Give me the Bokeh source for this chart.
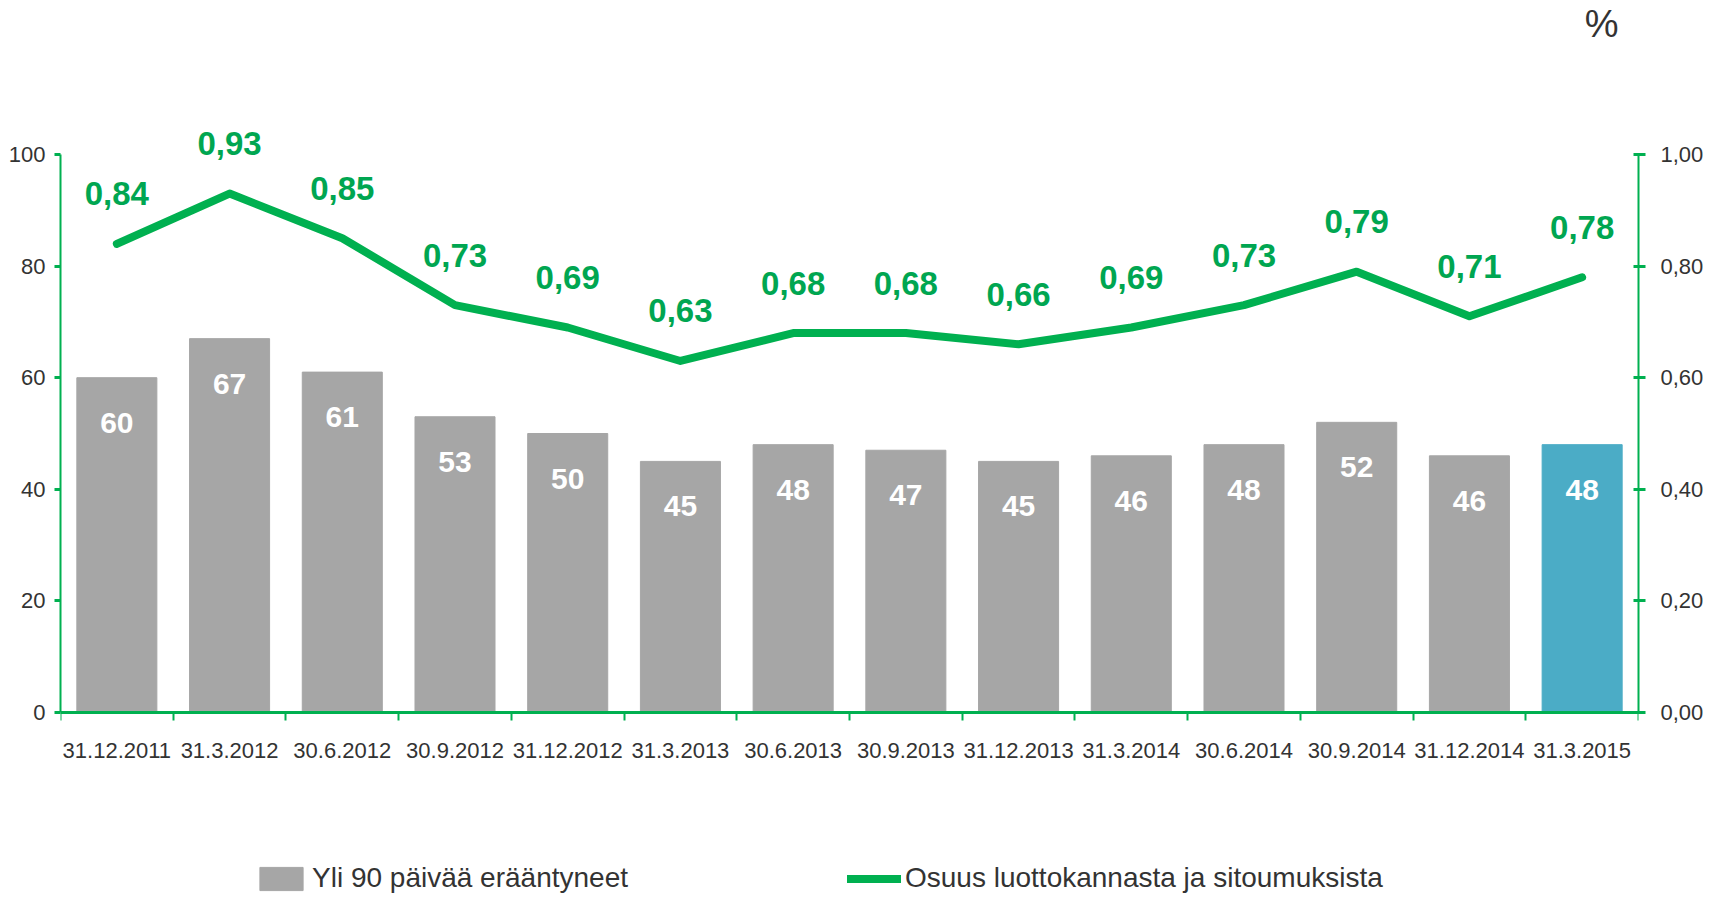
from bokeh.plotting import figure
from bokeh.models import (Range1d, LinearAxis, FixedTicker, CustomJSTickFormatter,
                          ColumnDataSource, Legend, LegendItem, Label)
from bokeh.core.properties import value
from bokeh.embed import file_html
from bokeh.resources import INLINE

# ---- data ----
categories = ["31.12.2011", "31.3.2012", "30.6.2012", "30.9.2012", "31.12.2012",
              "31.3.2013", "30.6.2013", "30.9.2013", "31.12.2013", "31.3.2014",
              "30.6.2014", "30.9.2014", "31.12.2014", "31.3.2015"]
overdue = [60, 67, 61, 53, 50, 45, 48, 47, 45, 46, 48, 52, 46, 48]
share_pct = [0.84, 0.93, 0.85, 0.73, 0.69, 0.63, 0.68, 0.68, 0.66, 0.69, 0.73, 0.79, 0.71, 0.78]
left_ticks = [0, 20, 40, 60, 80, 100]
right_ticks = [0.0, 0.2, 0.4, 0.6, 0.8, 1.0]
bar_series_name = "Yli 90 päivää erääntyneet"
line_series_name = "Osuus luottokannasta ja sitoumuksista"
unit_label = "%"

# ---- style / layout ----
FONT = "Liberation Sans"
GREEN = "#00B050"
GREEN_TXT = "#00A651"
GRAY = "#A6A6A6"
BLUE = "#4BACC6"
TXT = "#333333"

FRAME_W, FRAME_H = 1578, 900
PX_PER_UNIT = 5.58          # pixels per 1 unit on the left axis
ZERO_PX = 712               # screen y of value 0 from frame top
y_end = ZERO_PX / PX_PER_UNIT
y_start = (ZERO_PX - FRAME_H) / PX_PER_UNIT

n = len(categories)
centers = [i + 0.5 for i in range(n)]
bar_colors = [GRAY] * (n - 1) + [BLUE]
bar_text = [str(v) for v in overdue]
pct_text = [f"{v:.2f}".replace(".", ",") for v in share_pct]

src = ColumnDataSource(dict(x=centers, top=overdue, color=bar_colors, btxt=bar_text,
                            pct=share_pct, ptxt=pct_text))

p = figure(frame_width=FRAME_W, frame_height=FRAME_H, output_backend="svg", toolbar_location=None,
           x_range=Range1d(0, n), y_range=Range1d(y_start, y_end),
           min_border_left=60, min_border_right=67, min_border_top=0, min_border_bottom=0,
           x_axis_location=None, y_axis_location=None)
p.outline_line_color = None
p.xgrid.visible = False
p.ygrid.visible = False
p.background_fill_color = "white"
p.border_fill_color = "white"
p.extra_y_ranges = {"pct": Range1d(y_start / 100.0, y_end / 100.0)}

# bars
bars = p.vbar(x="x", top="top", bottom=0, width=0.71, color="color", source=src)
p.text(x="x", y="top", text="btxt", source=src, y_offset=45,
       text_align="center", text_baseline="middle", text_color="white",
       text_font=value(FONT), text_font_style="bold", text_font_size="30px")

# line
line = p.line(x="x", y="pct", source=src, y_range_name="pct", line_color=GREEN,
              line_width=8, line_cap="round", line_join="round")
p.text(x="x", y="pct", text="ptxt", source=src, y_range_name="pct", y_offset=-50,
       text_align="center", text_baseline="middle", text_color=GREEN_TXT,
       text_font=value(FONT), text_font_style="bold", text_font_size="33px")

# axes
xaxis = LinearAxis(ticker=FixedTicker(ticks=centers, minor_ticks=list(range(n + 1))),
                   formatter=CustomJSTickFormatter(args=dict(labels=categories),
                                                   code="return labels[Math.floor(tick)];"),
                   fixed_location=0)
xaxis.axis_line_color = GREEN
xaxis.axis_line_width = 3
xaxis.major_tick_line_color = None
xaxis.major_tick_out = 0
xaxis.major_tick_in = 0
xaxis.minor_tick_line_color = GREEN
xaxis.minor_tick_line_width = 2
xaxis.minor_tick_out = 8
xaxis.minor_tick_in = 0
xaxis.major_label_standoff = 22
xaxis.major_label_text_font = FONT
xaxis.major_label_text_font_size = "22px"
xaxis.major_label_text_color = TXT
p.add_layout(xaxis, "below")

yaxis = LinearAxis(ticker=FixedTicker(ticks=left_ticks), bounds=(0, 100))
yaxis.axis_line_color = GREEN
yaxis.axis_line_width = 2
yaxis.major_tick_line_color = GREEN
yaxis.major_tick_line_width = 3
yaxis.major_tick_out = 6
yaxis.major_tick_in = 0
yaxis.minor_tick_line_color = None
yaxis.major_label_standoff = 9
yaxis.major_label_text_font = FONT
yaxis.major_label_text_font_size = "22px"
yaxis.major_label_text_color = TXT
p.add_layout(yaxis, "left")

raxis = LinearAxis(y_range_name="pct", ticker=FixedTicker(ticks=right_ticks), bounds=(0, 1),
                   formatter=CustomJSTickFormatter(code="return tick.toFixed(2).replace('.', ',');"))
raxis.axis_line_color = GREEN
raxis.axis_line_width = 2
raxis.major_tick_line_color = GREEN
raxis.major_tick_line_width = 3
raxis.major_tick_out = 7
raxis.major_tick_in = 5
raxis.minor_tick_line_color = None
raxis.major_label_standoff = 15
raxis.major_label_text_font = FONT
raxis.major_label_text_font_size = "22px"
raxis.major_label_text_color = TXT
p.add_layout(raxis, "right")

# unit label
p.add_layout(Label(x=13.672, y=1.272, y_range_name="pct", text=unit_label,
                   text_align="center", text_baseline="top", text_color=TXT,
                   text_font=FONT, text_font_size="38px"))

# legend (inside the extended frame, below the axis)
legend = Legend(items=[LegendItem(label=bar_series_name, renderers=[bars], index=0),
                       LegendItem(label=line_series_name, renderers=[line])],
                location=(194, 6), orientation="horizontal", spacing=219,
                glyph_width=54, glyph_height=29, label_standoff=4, padding=0, margin=0,
                border_line_color=None, background_fill_alpha=0,
                label_text_font=FONT, label_text_font_size="28px", label_text_color=TXT)
p.add_layout(legend, "center")

open("out.html", "w").write(file_html(p, INLINE))
